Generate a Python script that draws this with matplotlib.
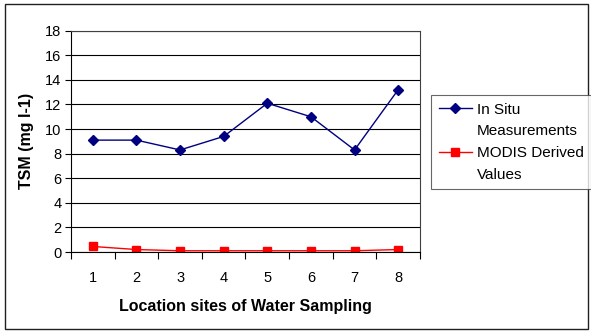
import numpy as np
import matplotlib.pyplot as plt
from matplotlib.lines import Line2D
from matplotlib.patches import Rectangle

plt.rcParams['font.family'] = ['Liberation Sans', 'DejaVu Sans']

sites = [1, 2, 3, 4, 5, 6, 7, 8]
in_situ = [9.1, 9.1, 8.3, 9.4, 12.1, 11.0, 8.3, 13.2]
modis = [0.45, 0.2, 0.1, 0.1, 0.1, 0.1, 0.1, 0.2]
series_names = [['In Situ', 'Measurements'], ['MODIS Derived', 'Values']]

fig = plt.figure(figsize=(5.91, 3.31), dpi=100)
ax = fig.add_axes([71 / 591, 1 - 252 / 331, (420 - 71) / 591, (252 - 30.7) / 331])

x = np.arange(len(sites))
l1, = ax.plot(x, in_situ, color='#000080', lw=1, marker='D', ms=5.5)
l2, = ax.plot(x, modis, color='#ff0000', lw=1, marker='s', ms=5.5)

ax.set_xlim(-0.5, len(sites) - 0.5)
ax.set_ylim(0, 18)
ax.set_yticks(np.arange(0, 19, 2))
ax.set_xticks(x)
ax.set_xticklabels([str(s) for s in sites])
ax.set_xticks(np.arange(-0.5, len(sites)), minor=True)
ax.tick_params(axis='x', which='major', length=0, pad=14, labelsize=10.5)
ax.tick_params(axis='x', which='minor', length=5, width=0.8, direction='out')
ax.tick_params(axis='y', length=4, width=0.8, direction='out', labelsize=10.5, pad=3)

ax.yaxis.grid(True, color='black', lw=0.8)
ax.set_axisbelow(True)
for side in ['top', 'right']:
    ax.spines[side].set_color('#404040')
    ax.spines[side].set_linewidth(0.8)
for side in ['left', 'bottom']:
    ax.spines[side].set_color('black')
    ax.spines[side].set_linewidth(0.8)

ax.set_ylabel('TSM (mg l-1)', fontweight='bold', fontsize=11.5, labelpad=8)
ax.set_xlabel('Location sites of Water Sampling', fontweight='bold', fontsize=11.5, labelpad=10)

blank = Line2D([], [], color='none')
handles = [l1, blank, l2, blank]
labels = [series_names[0][0], series_names[0][1], series_names[1][0], series_names[1][1]]
leg = fig.legend(handles, labels, loc='upper left', bbox_to_anchor=(431 / 591, 1 - 95 / 331),
                 fontsize=11, frameon=True, fancybox=False, handlelength=2.2,
                 handletextpad=0.3, borderpad=0.5, labelspacing=0.5, borderaxespad=0)
leg.get_frame().set_edgecolor('#404040')
leg.get_frame().set_linewidth(0.8)

fig.patches.append(Rectangle((5 / 591, 1 - 329 / 331), 583 / 591, 325 / 331,
                             transform=fig.transFigure, fill=False,
                             edgecolor='#202020', lw=1))

fig.savefig('out.png', dpi=100)
